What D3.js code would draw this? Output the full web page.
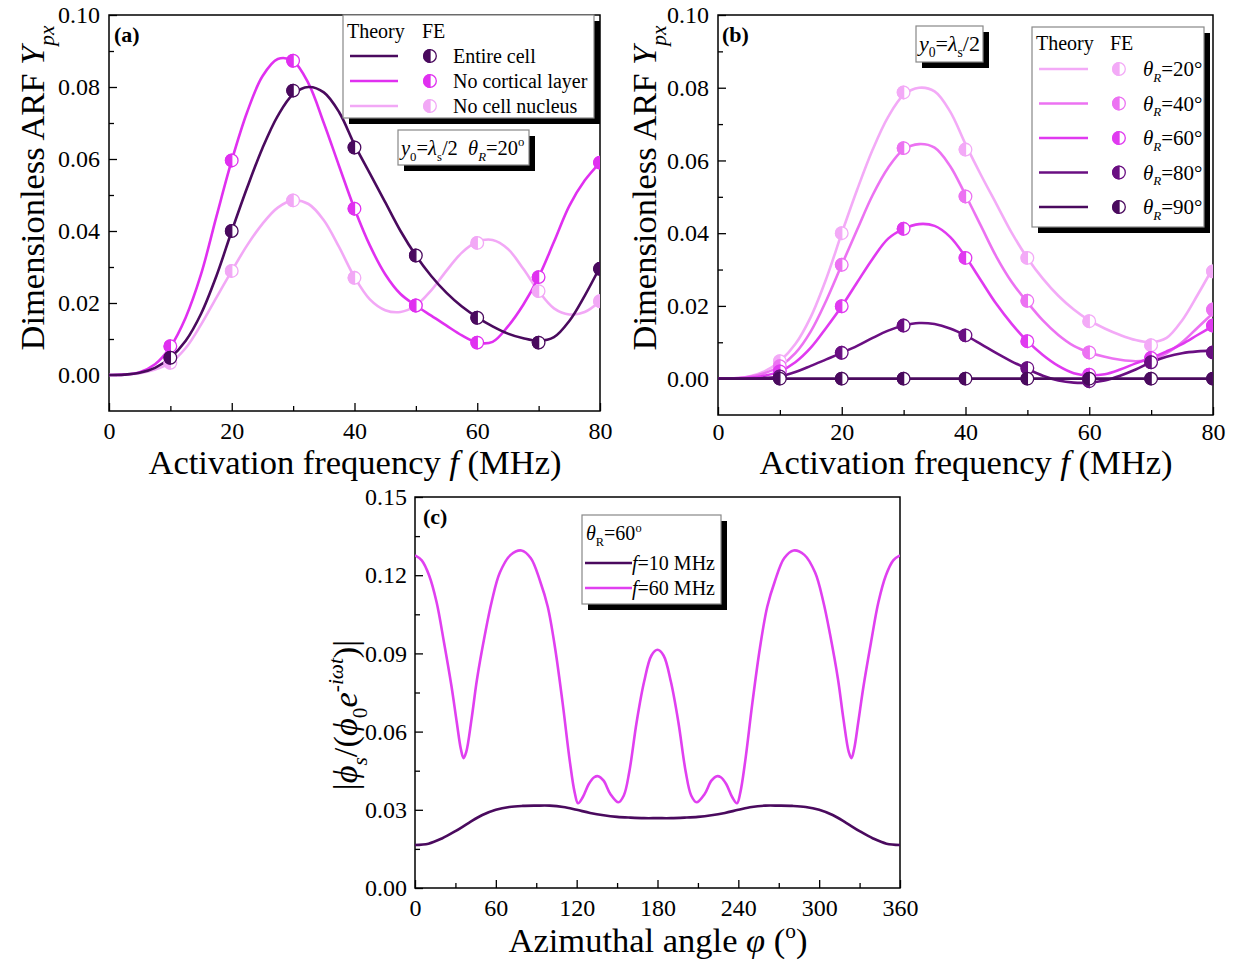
<!DOCTYPE html>
<html><head><meta charset="utf-8">
<script src="https://cdn.jsdelivr.net/npm/d3@7"></script>
<style>
body{margin:0;background:#fff}
svg{display:block}
text{font-family:"Liberation Serif","Times New Roman",serif;fill:#000}
</style>
</head><body>
<svg id="chart" width="1241" height="962"></svg>
<script>
// ---------------- DATA ----------------
const freqTheory = [0,2.5,5,7.5,10,12.5,15,17.5,20,22.5,25,27.5,30,32.5,35,37.5,40,42.5,45,47.5,50,52.5,55,57.5,60,62.5,65,67.5,70,72.5,75,77.5,80];
const feFreq = [10,20,30,40,50,60,70,80];

// panel (a)
const aSeriesNames = ["Entire cell","No cortical layer","No cell nucleus"];
const aEntireTheory = [0,0.0001,0.0006,0.0020,0.0048,0.0095,0.0170,0.0275,0.0400,0.0520,0.0630,0.0720,0.0780,0.0800,0.0785,0.0730,0.0640,0.0560,0.0480,0.0400,0.0332,0.0275,0.0228,0.0190,0.0160,0.0135,0.0115,0.0102,0.0095,0.0105,0.0150,0.0220,0.0300];
const aNoCortTheory = [0,0.0001,0.0008,0.0030,0.0078,0.0160,0.0280,0.0440,0.0596,0.0730,0.0830,0.0878,0.0872,0.0810,0.0700,0.0580,0.0462,0.0360,0.0280,0.0225,0.0193,0.0165,0.0137,0.0110,0.0090,0.0092,0.0135,0.0195,0.0272,0.0370,0.0470,0.0540,0.0590];
const aNoNucTheory = [0,0.0001,0.0005,0.0015,0.0034,0.0075,0.0140,0.0215,0.0289,0.0360,0.0420,0.0465,0.0485,0.0475,0.0430,0.0355,0.0272,0.0210,0.0180,0.0175,0.0193,0.0235,0.0290,0.0340,0.0370,0.0375,0.0350,0.0295,0.0233,0.0185,0.0168,0.0175,0.0205];
const aEntireFE = [0.0048,0.0400,0.0790,0.0632,0.0332,0.0159,0.0090,0.0295];
const aNoCortFE = [0.0080,0.0596,0.0873,0.0462,0.0193,0.0090,0.0272,0.0590];
const aNoNucFE = [0.0034,0.0289,0.0485,0.0270,0.0193,0.0367,0.0233,0.0205];

// panel (b)
const bSeriesNames = ["20","40","60","80","90"];
const b20Theory = [0,0.0001,0.0006,0.0020,0.0048,0.0095,0.0170,0.0275,0.0400,0.0520,0.0630,0.0720,0.0780,0.0800,0.0790,0.0735,0.0645,0.0560,0.0480,0.0400,0.0332,0.0275,0.0228,0.0190,0.0160,0.0138,0.0120,0.0106,0.0100,0.0112,0.0160,0.0230,0.0305];
const b40Theory = [0,0.0001,0.0005,0.0015,0.0034,0.0070,0.0130,0.0215,0.0313,0.0410,0.0505,0.0580,0.0630,0.0645,0.0635,0.0585,0.0505,0.0420,0.0335,0.0265,0.0210,0.0160,0.0120,0.0090,0.0072,0.0060,0.0052,0.0048,0.0052,0.0070,0.0100,0.0140,0.0180];
const b60Theory = [0,0,0.0002,0.0008,0.0020,0.0045,0.0085,0.0140,0.0199,0.0265,0.0330,0.0385,0.0412,0.0425,0.0420,0.0390,0.0335,0.0270,0.0205,0.0150,0.0103,0.0065,0.0035,0.0015,0.0009,0.0012,0.0025,0.0042,0.0057,0.0075,0.0095,0.0120,0.0145];
const b80Theory = [0,0,0,0.0002,0.0006,0.0018,0.0035,0.0053,0.0071,0.0090,0.0112,0.0132,0.0146,0.0153,0.0150,0.0138,0.0119,0.0095,0.0070,0.0047,0.0027,0.0008,-0.0005,-0.0011,-0.0011,-0.0005,0.0008,0.0025,0.0045,0.0060,0.0070,0.0075,0.0077];
const b90Theory = [0,0,0,0,0,0,0,0,0,0,0,0,0,0,0,0,0,0,0,0,0,0,0,0,0,0,0,0,0,0,0,0,0];
const b20FE = [0.0048,0.0400,0.0787,0.0630,0.0332,0.0158,0.0092,0.0295];
const b40FE = [0.0034,0.0313,0.0634,0.0501,0.0214,0.0072,0.0054,0.0190];
const b60FE = [0.0020,0.0199,0.0412,0.0332,0.0103,0.0011,0.0057,0.0146];
const b80FE = [0.0006,0.0071,0.0146,0.0119,0.0029,-0.0007,0.0045,0.0072];
const b90FE = [0,0,0,0,0,0,0,0];

// panel (c)
const c60Angle = [0,5,10.5,16,21.5,27,31,34,36,38,42,46,52,57,63,71,79,86,93,98.5,104,109.5,115,118.5,121,124.5,129,133,136,140,145,151,155,159,164.5,170,175.5,180,
  184.5,190,195.5,201,205,209,215,220,224,227,231,235.5,239,241.5,245,250.5,256,261.5,267,274,281,289,297,303,308,314,318,322,324,326,329,333,338.5,344,349.5,355,360];
const c60Value = [0.1276,0.1257,0.1199,0.1097,0.0943,0.0777,0.0636,0.0534,0.0498,0.0521,0.0649,0.0800,0.0975,0.1100,0.1210,0.1278,0.1295,0.1265,0.1175,0.1080,0.0920,0.0713,0.0483,0.0367,0.0325,0.0348,0.0399,0.0425,0.0429,0.0412,0.0361,0.0329,0.0355,0.0444,0.0636,0.0790,0.0892,0.0914,
  0.0892,0.0790,0.0636,0.0444,0.0355,0.0329,0.0361,0.0412,0.0429,0.0425,0.0399,0.0348,0.0325,0.0367,0.0483,0.0713,0.0920,0.1080,0.1175,0.1265,0.1295,0.1278,0.1210,0.1100,0.0975,0.0800,0.0649,0.0521,0.0498,0.0534,0.0636,0.0777,0.0943,0.1097,0.1199,0.1257,0.1276];
const c10Angle = [0,10,20,30,40,50,60,70,80,90,100,110,120,130,140,150,160,170,180,190,200,210,220,230,240,250,260,270,280,290,300,310,320,330,340,350,360];
const c10Value = [0.0165,0.0170,0.0190,0.0218,0.0250,0.0280,0.0300,0.0311,0.0315,0.0316,0.0316,0.0311,0.0300,0.0288,0.0279,0.0273,0.0270,0.0268,0.0268,0.0268,0.0270,0.0273,0.0279,0.0288,0.0300,0.0311,0.0316,0.0316,0.0315,0.0311,0.0300,0.0280,0.0250,0.0218,0.0190,0.0170,0.0165];

// tick values
const aXTicks = [0,10,20,30,40,50,60,70,80];
const aXLabels = [0,20,40,60,80];
const aYTicks = [0,0.01,0.02,0.03,0.04,0.05,0.06,0.07,0.08,0.09,0.10];
const aYLabels = [0,0.02,0.04,0.06,0.08,0.10];
const cXTicks = [0,30,60,90,120,150,180,210,240,270,300,330,360];
const cXLabels = [0,60,120,180,240,300,360];
const cYTicks = [0,0.015,0.03,0.045,0.06,0.075,0.09,0.105,0.12,0.135,0.15];
const cYLabels = [0,0.03,0.06,0.09,0.12,0.15];

// colours
const colDark = "#4a0a5e", colMag = "#e030f0", colLight = "#f2a8f6";
const bColors = ["#f3aaf7","#ec72f2","#e03af0","#6a0f82","#4a0a5e"];

// ---------------- HELPERS ----------------
const svg = d3.select("#chart");
const FONT_TICK = 24, FONT_TITLE = 34.5;

function rich(sel, parts, base){
  let off = 0;
  parts.forEach(p => {
    const target = p.sub ? 0.28*base : (p.sup ? -0.42*base : 0);
    const ts = sel.append("tspan").text(p.t);
    if (target - off !== 0) ts.attr("dy", target - off);
    off = target;
    if (p.sub || p.sup) ts.attr("font-size", base*0.62);
    if (p.i) ts.attr("font-style","italic");
  });
  return sel;
}

function frame(o){
  const x = d3.scaleLinear().domain(o.xDomain).range([o.left,o.right]);
  const y = d3.scaleLinear().domain(o.yDomain).range([o.bottom,o.top]);
  const g = svg.append("g");
  g.append("clipPath").attr("id","clip-"+o.id).append("rect")
    .attr("x",o.left).attr("y",o.top).attr("width",o.right-o.left).attr("height",o.bottom-o.top);
  const fmtX = d => o.xLabels.includes(d) ? d3.format("d")(d) : "";
  const ax = g.append("g").attr("transform",`translate(0,${o.bottom})`)
    .call(d3.axisBottom(x).tickValues(o.xTicks).tickSizeInner(-8).tickSizeOuter(0).tickPadding(o.xPad).tickFormat(fmtX));
  ax.selectAll(".tick line").attr("y2", d => o.xLabels.includes(d) ? -8 : -5).attr("stroke-width",1.3);
  const fmtY = d => o.yLabels.some(v => Math.abs(v-d)<1e-9) ? d3.format(".2f")(d) : "";
  const ay = g.append("g").attr("transform",`translate(${o.left},0)`)
    .call(d3.axisLeft(y).tickValues(o.yTicks).tickSizeInner(-8).tickSizeOuter(0).tickPadding(o.yPad).tickFormat(fmtY));
  ay.selectAll(".tick line").attr("x2", d => o.yLabels.some(v => Math.abs(v-d)<1e-9) ? 8 : 5).attr("stroke-width",1.3);
  [ax,ay].forEach(a => {
    a.select(".domain").remove();
    a.selectAll("text").attr("font-size",FONT_TICK).attr("font-family","'Liberation Serif','Times New Roman',serif").attr("fill","#000");
  });
  g.append("rect").attr("x",o.left).attr("y",o.top).attr("width",o.right-o.left).attr("height",o.bottom-o.top)
    .attr("fill","none").attr("stroke","#000").attr("stroke-width",1.5);
  const plot = g.append("g").attr("clip-path",`url(#clip-${o.id})`);
  return {x,y,g,plot};
}

function marker(g, cx, cy, color, r=6.3){
  const m = g.append("g").attr("transform",`translate(${cx},${cy})`);
  m.append("circle").attr("r",r).attr("fill","#fff").attr("stroke",color).attr("stroke-width",1.3);
  m.append("path").attr("d",`M0,${-r}A${r},${r} 0 0 0 0,${r}Z`).attr("fill",color).attr("stroke",color).attr("stroke-width",1.3);
}

function shadowBox(left, top, w, h, off=6){
  svg.append("rect").attr("x",left+off).attr("y",top+off).attr("width",w).attr("height",h).attr("fill","#000");
  svg.append("rect").attr("x",left).attr("y",top).attr("width",w).attr("height",h).attr("fill","#fff").attr("stroke","#888").attr("stroke-width",1.2);
}

function yTitle(cx, cy, parts){
  const t = svg.append("text").attr("transform",`translate(${cx},${cy}) rotate(-90)`).attr("text-anchor","middle").attr("font-size",FONT_TITLE);
  rich(t, parts, FONT_TITLE);
}
function xTitle(cx, by, parts){
  const t = svg.append("text").attr("x",cx).attr("y",by).attr("text-anchor","middle").attr("font-size",FONT_TITLE);
  rich(t, parts, FONT_TITLE);
}

const lineTheory = (x,y) => d3.line().x(d=>x(d[0])).y(d=>y(d[1])).curve(d3.curveCatmullRom.alpha(0.5));

// ---------------- PANEL (a) ----------------
{
  const P = frame({id:"a",left:109,right:600,top:15,bottom:411,xDomain:[0,80],yDomain:[-0.01,0.10],
    xTicks:aXTicks,xLabels:aXLabels,yTicks:aYTicks,yLabels:aYLabels,xPad:11,yPad:9});
  const theory = [aEntireTheory,aNoCortTheory,aNoNucTheory];
  const fe = [aEntireFE,aNoCortFE,aNoNucFE];
  const cols = [colDark,colMag,colLight];
  const order = [2,1,0];
  order.forEach(i => {
    P.plot.append("path").datum(freqTheory.map((f,k)=>[f,theory[i][k]]))
      .attr("d",lineTheory(P.x,P.y)).attr("fill","none").attr("stroke",cols[i]).attr("stroke-width",2.6);
  });
  order.forEach(i => {
    feFreq.forEach((f,k) => marker(P.plot, P.x(f), P.y(fe[i][k]), cols[i]));
  });
  svg.append("text").attr("x",114).attr("y",42).attr("font-size",22).attr("font-weight","bold").text("(a)");
  shadowBox(343,15,251,103);
  svg.append("text").attr("x",347).attr("y",38).attr("font-size",20).text("Theory");
  svg.append("text").attr("x",422).attr("y",38).attr("font-size",20).text("FE");
  aSeriesNames.forEach((nm,i) => {
    const cy = 56 + i*25;
    svg.append("line").attr("x1",350).attr("x2",398).attr("y1",cy).attr("y2",cy).attr("stroke",cols[i]).attr("stroke-width",2.6);
    marker(svg, 430, cy, cols[i]);
    svg.append("text").attr("x",453).attr("y",cy+7).attr("font-size",20).text(nm);
  });
  shadowBox(398,130,131,35);
  const t = svg.append("text").attr("x",401).attr("y",155).attr("font-size",20.5);
  rich(t,[{t:"y",i:1},{t:"0",sub:1},{t:"=",},{t:"λ",i:1},{t:"s",sub:1},{t:"/2\u00A0\u00A0"},{t:"θ",i:1},{t:"R",i:1,sub:1},{t:"=20"},{t:"o",sup:1}],20.5);
  yTitle(44,188,[{t:"Dimensionless ARF "},{t:"Y",i:1},{t:"px",i:1,sub:1}]);
  xTitle(355,474,[{t:"Activation frequency "},{t:"f",i:1},{t:" (MHz)"}]);
}

// ---------------- PANEL (b) ----------------
{
  const P = frame({id:"b",left:718,right:1213,top:15,bottom:415,xDomain:[0,80],yDomain:[-0.01,0.10],
    xTicks:aXTicks,xLabels:aXLabels,yTicks:aYTicks,yLabels:aYLabels,xPad:8,yPad:9});
  const theory = [b20Theory,b40Theory,b60Theory,b80Theory,b90Theory];
  const fe = [b20FE,b40FE,b60FE,b80FE,b90FE];
  theory.forEach((s,i) => {
    P.plot.append("path").datum(freqTheory.map((f,k)=>[f,s[k]]))
      .attr("d",lineTheory(P.x,P.y)).attr("fill","none").attr("stroke",bColors[i]).attr("stroke-width",2.6);
  });
  fe.forEach((s,i) => feFreq.forEach((f,k) => marker(P.plot, P.x(f), P.y(s[k]), bColors[i])));
  svg.append("text").attr("x",722).attr("y",42).attr("font-size",22).attr("font-weight","bold").text("(b)");
  shadowBox(1032,27,172,200);
  svg.append("text").attr("x",1036).attr("y",50).attr("font-size",20).text("Theory");
  svg.append("text").attr("x",1110).attr("y",50).attr("font-size",20).text("FE");
  bSeriesNames.forEach((nm,i) => {
    const cy = 69 + i*34.5;
    svg.append("line").attr("x1",1039).attr("x2",1088).attr("y1",cy).attr("y2",cy).attr("stroke",bColors[i]).attr("stroke-width",2.6);
    marker(svg, 1119, cy, bColors[i]);
    const t = svg.append("text").attr("x",1143).attr("y",cy+7).attr("font-size",21);
    rich(t,[{t:"θ",i:1},{t:"R",i:1,sub:1},{t:"="+nm+"°"}],21);
  });
  shadowBox(916,26,67,36);
  const t = svg.append("text").attr("x",919).attr("y",51).attr("font-size",22);
  rich(t,[{t:"y",i:1},{t:"0",sub:1},{t:"="},{t:"λ",i:1},{t:"s",sub:1},{t:"/2"}],22);
  yTitle(656,188,[{t:"Dimensionless ARF "},{t:"Y",i:1},{t:"px",i:1,sub:1}]);
  xTitle(966,474,[{t:"Activation frequency "},{t:"f",i:1},{t:" (MHz)"}]);
}

// ---------------- PANEL (c) ----------------
{
  const P = frame({id:"c",left:415,right:900,top:497,bottom:888,xDomain:[0,360],yDomain:[0,0.15],
    xTicks:cXTicks,xLabels:cXLabels,yTicks:cYTicks,yLabels:cYLabels,xPad:11,yPad:8});
  const ln = d3.line().x(d=>P.x(d[0])).y(d=>P.y(d[1])).curve(d3.curveCatmullRom.alpha(0.5));
  P.plot.append("path").datum(c10Angle.map((a,k)=>[a,c10Value[k]])).attr("d",ln).attr("fill","none").attr("stroke",colDark).attr("stroke-width",2.6);
  P.plot.append("path").datum(c60Angle.map((a,k)=>[a,c60Value[k]])).attr("d",ln).attr("fill","none").attr("stroke","#e040f0").attr("stroke-width",2.6);
  svg.append("text").attr("x",423).attr("y",524).attr("font-size",22).attr("font-weight","bold").text("(c)");
  shadowBox(582,515,139,89);
  const t0 = svg.append("text").attr("x",586).attr("y",540).attr("font-size",20);
  rich(t0,[{t:"θ",i:1},{t:"R",sub:1},{t:"=60"},{t:"o",sup:1}],20);
  [["10",colDark],["60","#e040f0"]].forEach((d,i) => {
    const cy = 563 + i*25;
    svg.append("line").attr("x1",585).attr("x2",632).attr("y1",cy).attr("y2",cy).attr("stroke",d[1]).attr("stroke-width",2.6);
    const t = svg.append("text").attr("x",632).attr("y",cy+7).attr("font-size",20);
    rich(t,[{t:"f",i:1},{t:"="+d[0]+" MHz"}],20);
  });
  yTitle(357,715,[{t:"|"},{t:"ϕ",i:1},{t:"s",i:1,sub:1},{t:"/("},{t:"ϕ",i:1},{t:"0",sub:1},{t:"e",i:1},{t:"-iωt",i:1,sup:1},{t:")|"}]);
  xTitle(658,952,[{t:"Azimuthal angle "},{t:"φ",i:1},{t:" ("},{t:"o",sup:1},{t:")"}]);
}
</script>
</body></html>
